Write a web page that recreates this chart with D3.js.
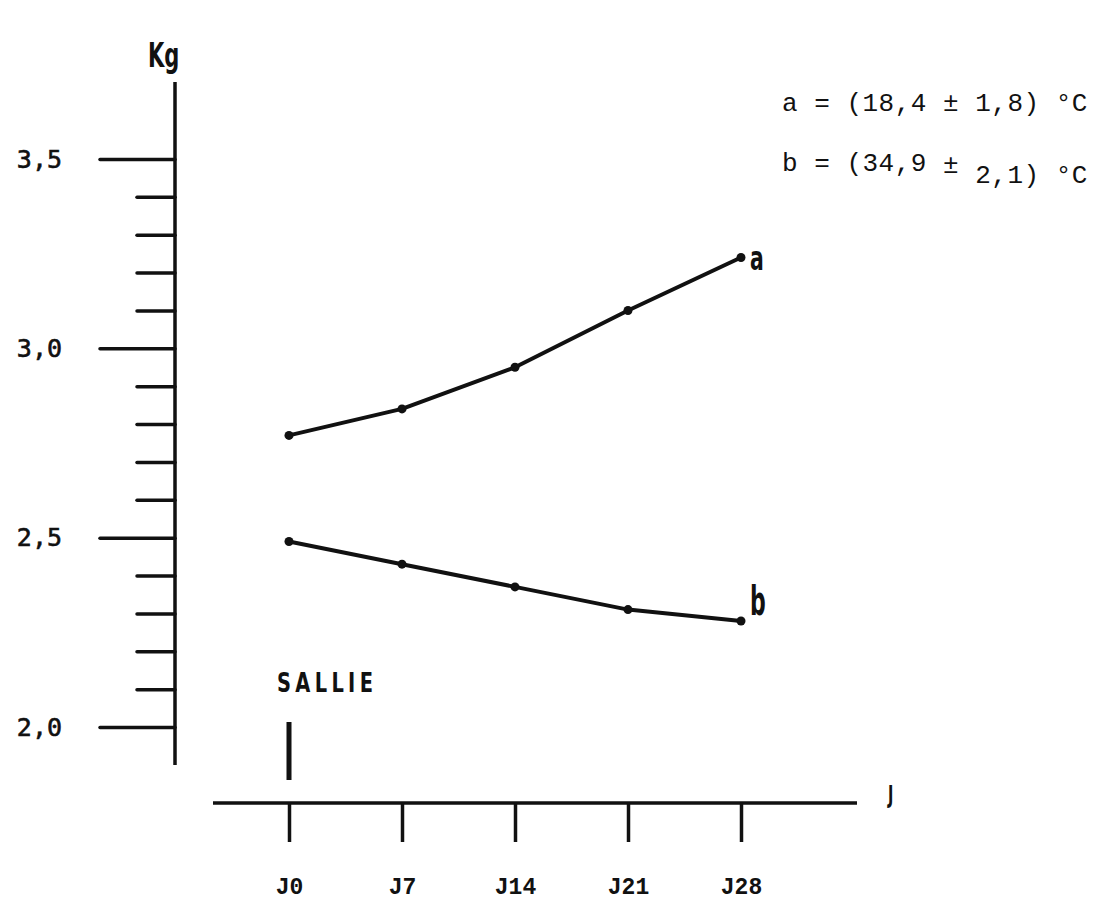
<!DOCTYPE html>
<html>
<head>
<meta charset="utf-8">
<script src="https://cdn.jsdelivr.net/npm/d3@7"></script>
<style>
  body { margin: 0; background: #fff; }
  svg { display: block; }
</style>
</head>
<body>
<svg id="chart" width="1101" height="912"></svg>
<script>
// Days after start of exposure and their labels
const days = [0, 7, 14, 21, 28];
const dayLabels = ["J0", "J7", "J14", "J21", "J28"];

// Mean body weight (kg) for the two temperature groups
const seriesA = [2.77, 2.84, 2.95, 3.10, 3.24];
const seriesB = [2.49, 2.43, 2.37, 2.31, 2.28];

// Weight axis ticks
const majorTicks = [2.0, 2.5, 3.0, 3.5];
const majorLabels = ["2,0", "2,5", "3,0", "3,5"];
const minorTicks = [2.1, 2.2, 2.3, 2.4, 2.6, 2.7, 2.8, 2.9, 3.1, 3.2, 3.3, 3.4];

// Temperature key
const keyA = ["a = (18,4 ", "±", " 1,8) °C"];
const keyB = ["b = (34,9 ", "±", " 2,1) °C"];

const svg = d3.select("#chart");
const ink = "#111";

const x = d3.scaleLinear().domain([0, 28]).range([289, 741]);
const y = d3.scaleLinear().domain([2.0, 3.5]).range([727, 159]);

const axisX = 175;   // position of the weight axis
const axisY = 803;   // position of the day axis

// Tall, narrow lettering (drawn with a horizontal squeeze)
function condensed(px, py, str, size, squeeze, spacing) {
  const g = svg.append("g").attr("transform", `translate(${px},${py}) scale(${squeeze},1)`);
  const t = g.append("text")
    .attr("fill", ink)
    .style("font-family", "'DejaVu Sans', sans-serif")
    .style("font-weight", "bold")
    .style("font-size", size + "px")
    .text(str);
  if (spacing) t.style("letter-spacing", spacing + "px");
  return t;
}

// ---- weight axis ----
svg.append("line")
  .attr("x1", axisX).attr("x2", axisX)
  .attr("y1", 82).attr("y2", 765)
  .attr("stroke", ink).attr("stroke-width", 3.5);

const yMajor = d3.axisLeft(y)
  .tickValues(majorTicks)
  .tickFormat((d, i) => majorLabels[i])
  .tickSize(75).tickSizeOuter(0).tickPadding(38);
const gMajor = svg.append("g").attr("transform", `translate(${axisX},0)`).call(yMajor);
gMajor.select(".domain").remove();
gMajor.selectAll(".tick line").attr("stroke", ink).attr("stroke-width", 3.5).attr("stroke-linecap", "round");
gMajor.selectAll(".tick text")
  .attr("fill", ink)
  .attr("stroke", ink).attr("stroke-width", 0.6)
  .style("font-family", "'DejaVu Sans Mono', monospace")
  .style("font-size", "25px");

const yMinor = d3.axisLeft(y)
  .tickValues(minorTicks)
  .tickFormat("")
  .tickSize(38).tickSizeOuter(0);
const gMinor = svg.append("g").attr("transform", `translate(${axisX},0)`).call(yMinor);
gMinor.select(".domain").remove();
gMinor.selectAll(".tick line").attr("stroke", ink).attr("stroke-width", 3.5).attr("stroke-linecap", "round");

condensed(148, 67, "Kg", 34, 0.62);

// ---- day axis ----
svg.append("line")
  .attr("x1", 213).attr("x2", 857)
  .attr("y1", axisY).attr("y2", axisY)
  .attr("stroke", ink).attr("stroke-width", 3.5);

const xAxis = d3.axisBottom(x)
  .tickValues(days)
  .tickFormat((d, i) => dayLabels[i])
  .tickSize(39).tickSizeOuter(0).tickPadding(36);
const gX = svg.append("g").attr("transform", `translate(0,${axisY})`).call(xAxis);
gX.select(".domain").remove();
gX.selectAll(".tick line").attr("stroke", ink).attr("stroke-width", 3.5);
gX.selectAll(".tick text")
  .attr("fill", ink)
  .style("font-family", "'Liberation Mono', monospace")
  .style("font-weight", "bold")
  .style("font-size", "23px");

condensed(888, 803, "J", 24, 0.6);

// ---- exposure start marker ----
svg.append("rect")
  .attr("x", x(0) - 2.5).attr("y", 722)
  .attr("width", 5).attr("height", 58)
  .attr("fill", ink);
condensed(277, 692, "SALLIE", 27, 0.72, 6);

// ---- series ----
const line = d3.line().x((d, i) => x(days[i])).y(d => y(d));
const series = [
  { values: seriesA, name: "a" },
  { values: seriesB, name: "b" }
];
series.forEach(s => {
  svg.append("path")
    .attr("d", line(s.values))
    .attr("fill", "none")
    .attr("stroke", ink)
    .attr("stroke-width", 4)
    .attr("stroke-linejoin", "round")
    .attr("stroke-linecap", "round");
  svg.selectAll(null).data(s.values).enter().append("circle")
    .attr("cx", (d, i) => x(days[i]))
    .attr("cy", d => y(d))
    .attr("r", 4.5)
    .attr("fill", ink);
});

// series tags to the right of the last point
condensed(750, 270, "a", 34, 0.6);
condensed(750, 615, "b", 40, 0.55);

// ---- temperature key ----
const keyStyle = sel => sel
  .attr("fill", ink)
  .style("font-family", "'Liberation Mono', monospace")
  .style("font-size", "26px")
  .style("letter-spacing", "0.5px");

const tA = svg.append("text").attr("x", 782).attr("y", 111).call(keyStyle);
tA.append("tspan").text(keyA[0]);
tA.append("tspan").text(keyA[1]);
tA.append("tspan").text(keyA[2]);

const tB = svg.append("text").attr("x", 782).attr("y", 171).call(keyStyle);
tB.append("tspan").text(keyB[0]);
tB.append("tspan").attr("dy", 2).text(keyB[1]);
tB.append("tspan").attr("dy", 10).text(keyB[2]);
</script>
</body>
</html>
